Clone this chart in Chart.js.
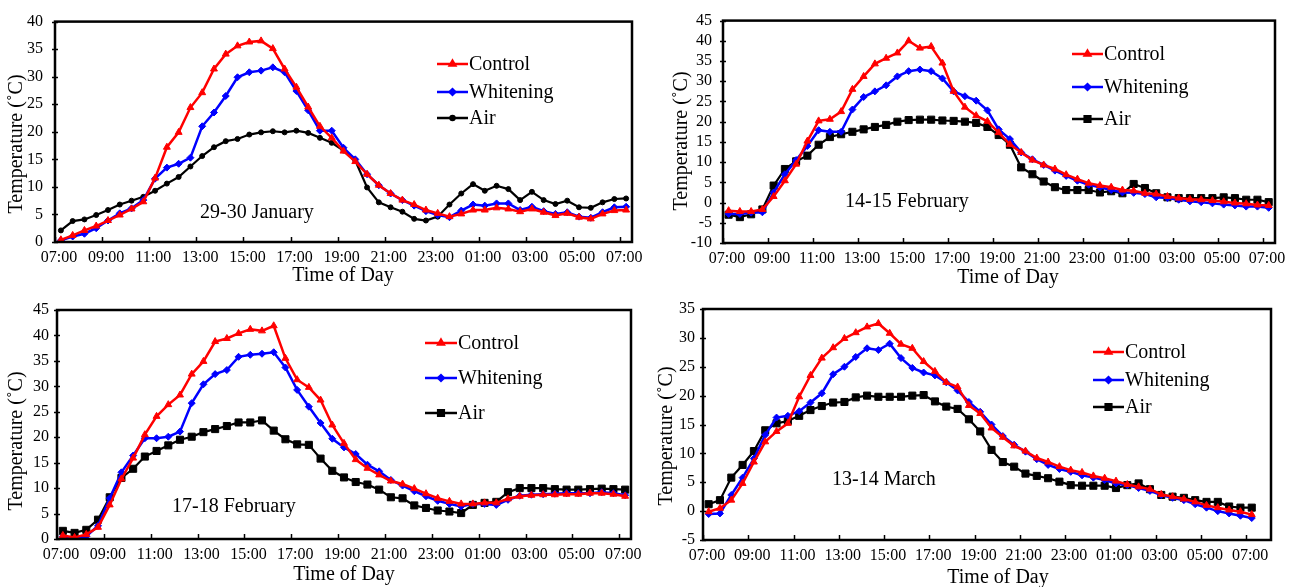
<!DOCTYPE html>
<html><head><meta charset="utf-8">
<script src="https://cdn.jsdelivr.net/npm/chart.js@4/dist/chart.umd.min.js"></script>
<style>
html,body{margin:0;padding:0;background:#fff;}
#wrap{position:relative;width:1299px;height:587px;overflow:hidden;background:#fff;}
canvas{position:absolute;left:0;top:0;}
</style></head><body>
<div id="wrap">
<canvas id="c1" width="1299" height="587"></canvas>
<canvas id="c2" width="1299" height="587"></canvas>
<canvas id="c3" width="1299" height="587"></canvas>
<canvas id="c4" width="1299" height="587"></canvas>
</div>
<script>
// ---- data ----
const sampleHours = [7.25,7.75,8.25,8.75,9.25,9.75,10.25,10.75,11.25,11.75,12.25,12.75,13.25,13.75,14.25,14.75,15.25,15.75,16.25,16.75,17.25,17.75,18.25,18.75,19.25,19.75,20.25,20.75,21.25,21.75,22.25,22.75,23.25,23.75,24.25,24.75,25.25,25.75,26.25,26.75,27.25,27.75,28.25,28.75,29.25,29.75,30.25,30.75,31.25];
const tickHours = [7,9,11,13,15,17,19,21,23,25,27,29,31];
const timeTickLabels = ["07:00","09:00","11:00","13:00","15:00","17:00","19:00","21:00","23:00","01:00","03:00","05:00","07:00"];
const seriesNames = ["Control","Whitening","Air"];

const janControl   = [0.4,1.2,2.1,2.9,3.9,4.9,6.0,7.3,11.6,17.2,19.9,24.4,27.1,31.4,34.1,35.6,36.3,36.5,35.1,31.4,28.1,24.5,21.0,18.9,16.5,14.6,12.3,10.3,8.8,7.6,6.8,5.8,5.2,4.6,5.1,5.8,5.8,6.2,6.0,5.5,6.0,5.4,4.8,5.2,4.5,4.2,5.1,5.7,5.8];
const janWhitening = [0.3,1.0,1.5,2.5,3.9,5.2,6.1,7.6,11.5,13.5,14.2,15.3,21.0,23.5,26.5,29.9,30.8,31.1,31.7,30.8,27.4,23.9,20.2,20.2,17.1,15.0,12.3,10.3,8.8,7.6,6.6,5.6,4.9,4.5,5.7,6.8,6.6,7.0,7.0,5.8,6.4,5.6,5.1,5.4,4.6,4.4,5.4,6.3,6.4];
const janAir       = [2.1,3.8,4.1,4.9,5.8,6.8,7.5,8.2,9.3,10.6,11.8,13.7,15.6,17.2,18.3,18.7,19.5,19.9,20.1,19.9,20.2,19.8,18.9,18.0,16.6,14.8,9.9,7.2,6.3,5.5,4.2,3.9,4.6,6.8,8.8,10.5,9.3,10.2,9.6,7.6,9.1,7.6,6.9,7.5,6.3,6.2,7.2,7.8,7.9];

const feb14Control   = [-2.0,-2.2,-2.2,-1.7,1.5,5.4,9.5,15.2,20.2,20.6,22.5,28.0,31.2,34.3,35.7,37.0,40.0,38.2,38.6,34.5,27.5,23.6,21.5,20.1,17.3,14.4,12.4,10.5,9.3,8.3,6.9,5.8,4.8,4.2,3.8,3.1,2.9,2.3,2.1,1.5,1.1,0.8,0.7,0.5,0.2,-0.1,-0.3,-0.6,-0.7];
const feb14Whitening = [-2.8,-2.8,-2.5,-2.4,2.5,7.0,10.5,14.0,17.9,17.5,17.5,23.0,26.1,27.5,29.0,31.2,32.5,32.9,32.5,30.7,27.5,26.3,25.2,22.8,18.1,15.7,12.4,10.7,9.3,7.9,6.6,5.4,4.4,3.8,3.1,2.5,2.4,2.1,1.3,1.1,0.7,0.3,0.1,-0.2,-0.5,-0.7,-1.0,-1.0,-1.3];
const feb14Air       = [-3.0,-3.6,-2.9,-1.7,4.2,8.3,10.2,11.6,14.3,16.2,16.9,17.5,18.1,18.7,19.2,20.0,20.4,20.5,20.5,20.3,20.2,20.0,19.7,18.7,16.7,14.3,8.7,7.0,5.2,3.8,3.1,3.1,3.1,2.5,2.8,2.3,4.6,3.6,2.3,1.3,1.1,1.1,1.1,1.1,1.3,1.1,0.7,0.7,0.1];

const feb17Control   = [0.7,0.3,0.9,2.3,6.7,11.8,15.9,20.5,24.1,26.4,28.3,32.4,34.9,38.8,39.4,40.4,41.2,40.9,41.9,35.5,31.3,29.8,27.3,22.4,18.8,15.6,13.9,12.6,11.4,10.8,9.9,8.9,8.0,7.4,6.9,6.9,7.1,7.1,7.9,8.4,8.6,8.7,8.7,8.8,8.8,9.0,9.0,8.8,8.4];
const feb17Whitening = [0.5,0.1,0.5,2.6,8.0,13.1,16.4,19.8,19.8,20.1,21.1,26.7,30.4,32.4,33.2,35.8,36.2,36.4,36.7,33.7,29.3,26.0,22.8,19.7,18.0,16.7,14.6,13.3,11.6,10.5,9.4,8.4,7.5,6.9,6.4,6.9,6.9,6.7,7.7,8.5,8.7,8.8,8.9,9.0,9.0,9.0,9.2,9.0,8.6];
const feb17Air       = [1.6,1.2,1.8,3.8,8.2,12.0,13.8,16.2,17.3,18.4,19.5,20.1,21.0,21.6,22.2,22.9,22.9,23.3,21.3,19.6,18.6,18.5,15.8,13.4,12.1,11.2,10.7,9.7,8.2,8.0,6.6,6.1,5.6,5.4,5.1,6.7,7.1,7.3,9.2,10.0,10.0,10.0,9.8,9.7,9.7,9.8,9.9,9.8,9.7];

const marControl   = [-0.1,0.5,1.9,4.8,8.5,12.0,13.8,15.2,19.8,23.5,26.5,28.3,29.9,30.9,31.9,32.5,30.8,28.9,28.2,25.9,24.2,22.3,21.5,18.3,16.9,14.4,12.8,11.3,10.4,9.2,8.5,7.7,7.1,6.7,6.1,5.7,5.2,4.6,4.2,3.8,2.9,2.5,2.1,1.6,1.0,0.6,0.2,-0.1,-0.6];
const marWhitening = [-0.5,-0.4,2.8,5.8,9.1,13.2,16.2,16.5,17.3,18.8,20.4,23.7,25.0,26.7,28.2,27.9,29.0,26.5,24.8,24.0,23.5,22.3,20.9,18.9,17.2,15.0,13.0,11.5,10.3,9.0,8.0,7.3,6.8,6.2,5.8,5.4,4.8,4.5,4.0,3.5,2.8,2.3,1.9,1.2,0.6,0.0,-0.4,-0.8,-1.2];
const marAir       = [1.2,1.9,5.8,8.0,10.4,14.0,15.2,15.6,16.5,17.5,18.2,18.8,18.9,19.7,20.0,19.8,19.8,19.8,20.0,20.1,19.0,18.1,17.7,15.9,13.8,10.6,8.5,7.7,6.5,6.1,5.7,5.1,4.5,4.4,4.4,4.4,4.0,4.5,4.8,3.8,2.8,2.5,2.3,1.9,1.6,1.6,0.8,0.6,0.6];

const yTicksJan = [0,5,10,15,20,25,30,35,40];
const yTicksFeb14 = [-10,-5,0,5,10,15,20,25,30,35,40,45];
const yTicksFeb17 = [0,5,10,15,20,25,30,35,40,45];
const yTicksMar = [-5,0,5,10,15,20,25,30,35];

// ---- drawing ----
const FONT = "'Liberation Serif', 'Times New Roman', serif";
const W = 1299, H = 587, YW = 40, XH = 30;
const RED = '#ff0000', BLUE = '#0000ff', BLACK = '#000000';

const decor = {
  id: 'decor',
  afterDraw(chart, args, o) {
    const ctx = chart.ctx, a = chart.chartArea;
    const xs = chart.scales.x, ys = chart.scales.y;
    ctx.save();
    ctx.strokeStyle = '#000'; ctx.lineWidth = 1.5;
    ys.ticks.forEach(t => {
      const y = Math.round(ys.getPixelForValue(t.value)) + 0.5;
      ctx.beginPath(); ctx.moveTo(a.left - 3, y); ctx.lineTo(a.left + 3, y); ctx.stroke();
    });
    xs.ticks.forEach(t => {
      const x = Math.round(xs.getPixelForValue(t.value)) + 0.5;
      ctx.beginPath(); ctx.moveTo(x, a.bottom); ctx.lineTo(x, a.bottom - 5); ctx.stroke();
    });
    ctx.lineWidth = 2.5;
    ctx.strokeRect(a.left, a.top, a.right - a.left, a.bottom - a.top);
    ctx.fillStyle = '#000';
    // axis titles
    ctx.font = '20px ' + FONT;
    ctx.textAlign = 'center'; ctx.textBaseline = 'middle';
    ctx.fillText('Time of Day', o.xTitle[0], o.xTitle[1]);
    ctx.save();
    ctx.translate(o.yTitle[0], o.yTitle[1]); ctx.rotate(-Math.PI / 2);
    ctx.fillText('Temperature (\u02DAC)', 0, 0);
    ctx.restore();
    // note
    ctx.textAlign = 'left';
    ctx.fillText(o.note.text, o.note.x, o.note.y);
    // legend
    const L = o.legend;
    chart.data.datasets.forEach((ds, i) => {
      const y = L.ys[i];
      ctx.strokeStyle = ds.borderColor; ctx.lineWidth = 2.5;
      ctx.beginPath(); ctx.moveTo(L.x1, y); ctx.lineTo(L.x2, y); ctx.stroke();
      ctx.fillStyle = ds.borderColor;
      Chart.helpers.drawPoint(ctx, {pointStyle: ds.pointStyle, radius: ds.pointRadius * 0.8, rotation: 0, borderWidth: 1}, (L.x1 + L.x2) / 2, y);
      ctx.fillStyle = '#000';
      ctx.font = '20px ' + FONT;
      ctx.textAlign = 'left'; ctx.textBaseline = 'middle';
      ctx.fillText(ds.label, L.x2 + 1, y + 1);
    });
    ctx.restore();
  }
};

function makeDs(label, values, color, style, radius, width) {
  return {
    label, data: values.map((v, i) => ({x: sampleHours[i], y: v})),
    borderColor: color, backgroundColor: color, pointBackgroundColor: color, pointBorderColor: color,
    pointStyle: style, pointRadius: radius, pointBorderWidth: 1, borderWidth: width, tension: 0
  };
}

function makeChart(id, p) {
  const area = p.area;
  new Chart(document.getElementById(id), {
    type: 'line',
    data: { datasets: [
      makeDs(seriesNames[0], p.control, RED, 'triangle', 4, 2.5),
      makeDs(seriesNames[1], p.whitening, BLUE, 'rectRot', 3.5, 2.5),
      makeDs(seriesNames[2], p.air, BLACK, p.airStyle, p.airRadius, 2.2)
    ]},
    options: {
      responsive: false, animation: false, devicePixelRatio: 1,
      layout: { padding: { left: area[0] - YW, top: area[1], right: W - area[2], bottom: H - area[3] - XH } },
      plugins: { legend: {display: false}, tooltip: {enabled: false}, decor: p.decor },
      scales: {
        x: {
          type: 'linear', min: 7, max: p.xMax,
          afterBuildTicks: s => { s.ticks = tickHours.map(v => ({value: v})); },
          afterFit: s => { s.height = XH; },
          grid: {display: false, drawTicks: false, tickLength: 0}, border: {display: false},
          ticks: { font: {family: FONT, size: 16}, color: '#000', padding: 6, labelOffset: 4,
                   autoSkip: false, maxRotation: 0, minRotation: 0,
                   callback: (v, i) => timeTickLabels[i] }
        },
        y: {
          type: 'linear', min: p.yTicks[0], max: p.yTicks[p.yTicks.length - 1],
          afterBuildTicks: s => { s.ticks = p.yTicks.map(v => ({value: v})); },
          afterFit: s => { s.width = YW; },
          grid: {display: false, drawTicks: false, tickLength: 0}, border: {display: false},
          ticks: { font: {family: FONT, size: 16}, color: '#000', padding: p.yPad, autoSkip: false }
        }
      }
    },
    plugins: [decor]
  });
}

makeChart('c1', {
  area: [55, 19, 632, 242], xMax: 31.5, yTicks: yTicksJan, yPad: 12,
  control: janControl, whitening: janWhitening, air: janAir, airStyle: 'circle', airRadius: 2.5,
  decor: { xTitle: [343, 276], yTitle: [17, 144], note: {text: '29-30 January', x: 200, y: 213},
           legend: {x1: 437, x2: 468, ys: [64, 92, 118]} }
});
makeChart('c2', {
  area: [723, 19, 1275, 243], xMax: 31.53, yTicks: yTicksFeb14, yPad: 11,
  control: feb14Control, whitening: feb14Whitening, air: feb14Air, airStyle: 'rect', airRadius: 5,
  decor: { xTitle: [1008, 278], yTitle: [682, 141], note: {text: '14-15 February', x: 845, y: 202},
           legend: {x1: 1072, x2: 1103, ys: [54, 87, 119]} }
});
makeChart('c3', {
  area: [57, 310, 631, 539], xMax: 31.5, yTicks: yTicksFeb17, yPad: 8,
  control: feb17Control, whitening: feb17Whitening, air: feb17Air, airStyle: 'rect', airRadius: 5,
  decor: { xTitle: [344, 575], yTitle: [17, 441], note: {text: '17-18 February', x: 172, y: 507},
           legend: {x1: 425, x2: 457, ys: [343, 378, 413]} }
});
makeChart('c4', {
  area: [703, 309, 1271, 540], xMax: 32.1, yTicks: yTicksMar, yPad: 8,
  control: marControl, whitening: marWhitening, air: marAir, airStyle: 'rect', airRadius: 5,
  decor: { xTitle: [998, 578], yTitle: [667, 436], note: {text: '13-14 March', x: 832, y: 480},
           legend: {x1: 1093, x2: 1124, ys: [352, 380, 407]} }
});
</script>
</body></html>
